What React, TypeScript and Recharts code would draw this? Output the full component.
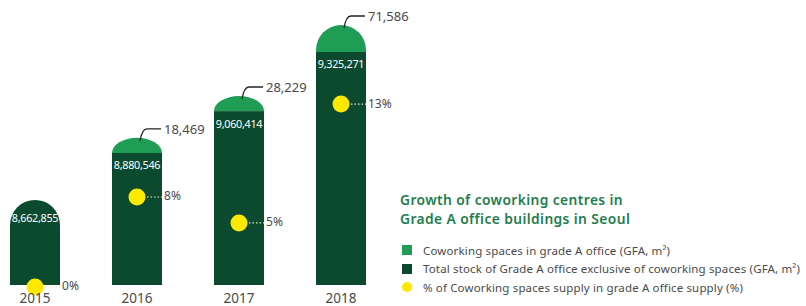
import {
  ComposedChart,
  Bar,
  Line,
  XAxis,
  YAxis,
  Legend,
  LabelList,
} from "recharts";

const years = ["2015", "2016", "2017", "2018"];
const totalStock = [8662855, 8880546, 9060414, 9325271];
const coworkingGfa = [0, 18469, 28229, 71586];
const coworkingShare = [0, 8, 5, 13];

// the infographic does not draw its bars to scale: heights (index 0-100)
const stockBarIndex = [31.5, 48.9, 64.4, 86.3];
const coworkingBarIndex = [0, 5.6, 5.6, 10];
const shareDotIndex = [-0.7, 32.6, 23, 67];

const DARK = "#0c4a2f";
const GREEN = "#1f9d55";
const YELLOW = "#fde800";
const TITLE = "#1f7d4c";
const TEXT = "#4a4a4a";
const FONT = "'Noto Sans', sans-serif";

const legendOrder = ["coworkingBar", "stockBar", "shareDot"];

const data = years.map((year, i) => ({
  year,
  stock: totalStock[i],
  coworking: coworkingGfa[i],
  share: coworkingShare[i],
  stockBar: stockBarIndex[i],
  coworkingBar: coworkingBarIndex[i],
  shareDot: shareDotIndex[i],
}));

const fmt = (n: number) => n.toLocaleString("en-US");

function topPath(x: number, y: number, w: number, h: number) {
  const rx = w / 2;
  const ry = Math.min(h, rx);
  return `M${x},${y + h} L${x},${y + ry} A${rx},${ry} 0 0 1 ${x + w},${y + ry} L${x + w},${y + h} Z`;
}

function StockShape(props: any) {
  const { x, y, width, height, payload } = props;
  if (payload.coworkingBar > 0) {
    return <rect x={x} y={y} width={width} height={height} fill={DARK} />;
  }
  return <path d={topPath(x, y, width, height)} fill={DARK} />;
}

function CoworkingShape(props: any) {
  const { x, y, width, height } = props;
  if (!height) return null;
  return <path d={topPath(x, y, width, height)} fill={GREEN} />;
}

function StockLabel(props: any) {
  const { x, y, width, index } = props;
  const onTop = coworkingGfa[index] === 0;
  return (
    <text
      x={x + width / 2}
      y={y + (onTop ? 18 : 12)}
      textAnchor="middle"
      dominantBaseline="central"
      fill="#ffffff"
      fontSize={10.8}
      letterSpacing={-0.3}
    >
      {fmt(totalStock[index])}
    </text>
  );
}

function CoworkingLabel(props: any) {
  const { x, y, width, index } = props;
  if (!coworkingGfa[index]) return null;
  const sx = x + width / 2 + 3;
  const ty = y - 9;
  return (
    <g>
      <path
        d={`M${sx},${y + 3} Q${sx + 2},${ty} ${sx + 7},${ty} L${sx + 21},${ty}`}
        stroke="#222"
        strokeWidth={1.3}
        fill="none"
      />
      <text x={sx + 24} y={ty} dominantBaseline="central" fill={TEXT} fontSize={13}>
        {fmt(coworkingGfa[index])}
      </text>
    </g>
  );
}

function ShareDot(props: any) {
  const { cx, cy, index } = props;
  return (
    <g key={`dot-${index}`}>
      <line
        x1={cx + 10}
        y1={cy}
        x2={cx + 25}
        y2={cy}
        stroke="#e6e6cf"
        strokeWidth={1.2}
        strokeDasharray="1.5 2"
      />
      <circle cx={cx} cy={cy} r={8.5} fill={YELLOW} />
      <text x={cx + 27} y={cy - 1} dominantBaseline="central" fill={TEXT} fontSize={12}>
        {coworkingShare[index]}%
      </text>
    </g>
  );
}

function ChartLegend({ payload }: any) {
  const items = legendOrder
    .map((key) => (payload || []).find((p: any) => p.dataKey === key))
    .filter(Boolean);
  return (
    <div style={{ fontFamily: FONT }}>
      <div
        style={{
          color: TITLE,
          fontWeight: 600,
          fontSize: 13.8,
          letterSpacing: 0.4,
          lineHeight: "19px",
        }}
      >
        Growth of coworking centres in
        <br />
        Grade A office buildings in Seoul
      </div>
      <div style={{ marginTop: 13 }}>
        {items.map((it: any) => (
          <div
            key={it.dataKey}
            style={{
              display: "flex",
              alignItems: "center",
              height: 18.5,
              fontSize: 11.5,
              letterSpacing: 0.15,
              color: TEXT,
              whiteSpace: "nowrap",
            }}
          >
            <span
              style={{
                display: "inline-block",
                width: 10,
                height: 10,
                marginLeft: 2,
                marginRight: 11,
                background: it.color,
                borderRadius: it.dataKey === "shareDot" ? "50%" : 0,
              }}
            />
            <span>{it.value}</span>
          </div>
        ))}
      </div>
    </div>
  );
}

export default function App() {
  return (
    <div
      style={{
        position: "absolute",
        left: 0,
        top: 0,
        width: 806,
        height: 306,
        background: "#ffffff",
        fontFamily: FONT,
      }}
    >
      <ComposedChart
        width={806}
        height={306}
        data={data}
        margin={{ top: 15, right: 414, bottom: 0, left: -16 }}
      >
        <XAxis
          dataKey="year"
          axisLine={false}
          tickLine={false}
          tickSize={0}
          tickMargin={-2}
          height={10.2}
          tick={{ fontSize: 13.5, fill: TEXT }}
          interval={0}
        />
        <YAxis hide domain={[-4, 100]} />
        <Legend
          layout="vertical"
          align="center"
          verticalAlign="middle"
          content={<ChartLegend />}
          wrapperStyle={{ left: 400, top: 190, width: 406 }}
        />
        <Bar
          dataKey="stockBar"
          stackId="a"
          name="Total stock of Grade A office exclusive of coworking spaces (GFA, m²)"
          fill={DARK}
          barSize={50}
          shape={<StockShape />}
          isAnimationActive={false}
        >
          <LabelList dataKey="stockBar" content={<StockLabel />} />
        </Bar>
        <Bar
          dataKey="coworkingBar"
          stackId="a"
          name="Coworking spaces in grade A office (GFA, m²)"
          fill={GREEN}
          barSize={50}
          shape={<CoworkingShape />}
          isAnimationActive={false}
        >
          <LabelList dataKey="coworkingBar" content={<CoworkingLabel />} />
        </Bar>
        <Line
          dataKey="shareDot"
          name="% of Coworking spaces supply in grade A office supply (%)"
          stroke={YELLOW}
          strokeWidth={0}
          dot={<ShareDot />}
          activeDot={false}
          isAnimationActive={false}
        />
      </ComposedChart>
    </div>
  );
}
